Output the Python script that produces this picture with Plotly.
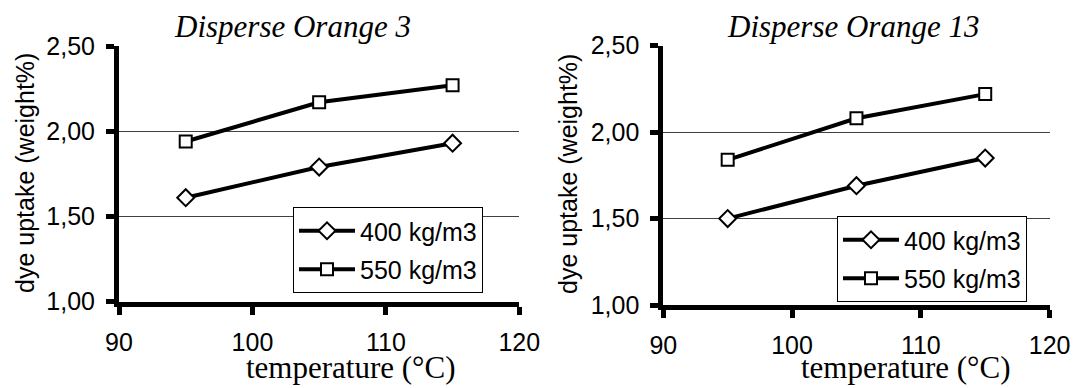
import plotly.graph_objects as go

temps = [95, 105, 115]
do3_400 = [1.61, 1.79, 1.93]
do3_550 = [1.94, 2.17, 2.27]
do13_400 = [1.50, 1.69, 1.85]
do13_550 = [1.84, 2.08, 2.22]
series_names = ["400 kg/m3", "550 kg/m3"]
titles = ["Disperse Orange 3", "Disperse Orange 13"]
x_title = "temperature (°C)"
y_title = "dye uptake (weight%)"
x_ticks = [90, 100, 110, 120]
y_ticks = [1.0, 1.5, 2.0, 2.5]

W, H = 1073, 388
SANS = "Liberation Sans, Arial, sans-serif"
SERIF = "Liberation Serif, Times New Roman, serif"

fig = go.Figure()

def add_series(xa, ya, leg, y400, y550):
    fig.add_trace(go.Scatter(
        x=temps, y=y400, name=series_names[0], xaxis=xa, yaxis=ya, legend=leg,
        legendgroup=leg + "a",
        mode="lines+markers", line=dict(color="black", width=4),
        marker=dict(symbol="diamond", size=13, color="white", line=dict(color="black", width=2)),
    ))
    fig.add_trace(go.Scatter(
        x=temps, y=y550, name=series_names[1], xaxis=xa, yaxis=ya, legend=leg,
        legendgroup=leg + "b",
        mode="lines+markers", line=dict(color="black", width=4),
        marker=dict(symbol="square", size=12, color="white", line=dict(color="black", width=2)),
    ))

add_series("x", "y", "legend", do3_400, do3_550)
add_series("x2", "y2", "legend2", do13_400, do13_550)

def px_x(p):
    return p / W

def px_y(p):
    return 1 - p / H

xaxis_common = dict(
    range=[90, 120], tickvals=x_ticks, showgrid=False, zeroline=False,
    showline=True, linecolor="black", linewidth=5, automargin=False,
    ticks="outside", ticklen=8, tickwidth=5, tickcolor="black",
    tickfont=dict(family=SANS, size=25, color="black"),
    ticklabelstandoff=6,
)
yaxis_common = dict(
    range=[1.0, 2.5], tickvals=y_ticks, tickformat=".2f", showgrid=True,
    gridcolor="#404040", gridwidth=1, zeroline=False, automargin=False,
    showline=True, linecolor="black", linewidth=5,
    ticks="outside", ticklen=8, tickwidth=5, tickcolor="black",
    tickfont=dict(family=SANS, size=25, color="black"),
    ticklabelstandoff=6,
)

legend_common = dict(
    xanchor="left", yanchor="top",
    bgcolor="white", bordercolor="black", borderwidth=1,
    font=dict(family=SANS, size=25, color="black"), itemwidth=56,
    tracegroupgap=3,
)

fig.update_layout(
    width=W, height=H,
    margin=dict(l=0, r=0, t=0, b=0, pad=0, autoexpand=False),
    paper_bgcolor="white", plot_bgcolor="white",
    separators=",.",
    xaxis=dict(domain=[px_x(119), px_x(519.3)], anchor="y", **xaxis_common),
    yaxis=dict(domain=[px_y(301.7), px_y(46)], anchor="x", **yaxis_common),
    xaxis2=dict(domain=[px_x(663.3), px_x(1049.6)], anchor="y2", **xaxis_common),
    yaxis2=dict(domain=[px_y(305), px_y(45.7)], anchor="x2", **yaxis_common),
    legend=dict(x=px_x(293), y=px_y(207), **legend_common),
    legend2=dict(x=px_x(837), y=px_y(216), **legend_common),
    showlegend=True,
)

annotations = []
for cx, text in [(292, titles[0]), (853, titles[1])]:
    annotations.append(dict(
        x=px_x(cx), y=px_y(46), xref="paper", yref="paper",
        xanchor="center", yanchor="bottom", showarrow=False,
        text="<i>" + text + "</i>",
        font=dict(family=SERIF, size=31, color="black"),
    ))
for cx in [351, 906]:
    annotations.append(dict(
        x=px_x(cx), y=px_y(367), xref="paper", yref="paper",
        xanchor="center", yanchor="middle", showarrow=False,
        text=x_title, font=dict(family=SERIF, size=31, color="black"),
    ))
for cx, cy in [(25, 173), (568, 174)]:
    annotations.append(dict(
        x=px_x(cx), y=px_y(cy), xref="paper", yref="paper",
        xanchor="center", yanchor="middle", showarrow=False, textangle=-90,
        text=y_title, font=dict(family=SANS, size=25, color="black"),
    ))
fig.update_layout(annotations=annotations)

# remove the browser's default page margin so the figure fills the window exactly
page_fix = "document.body.style.margin='0';document.body.style.overflow='hidden';"

fig.write_html("out.html", post_script=page_fix, config={"displayModeBar": False})
